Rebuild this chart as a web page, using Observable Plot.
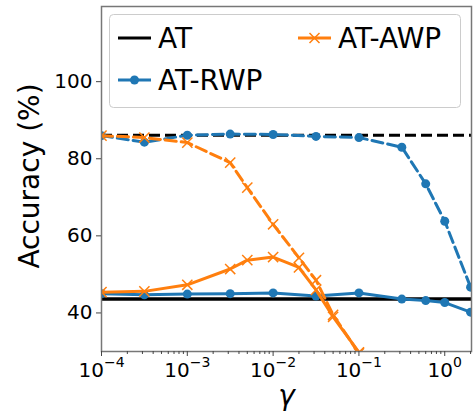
<!DOCTYPE html>
<html><head><meta charset="utf-8">
<script src="https://cdn.jsdelivr.net/npm/d3@7"></script>
<script src="https://cdn.jsdelivr.net/npm/@observablehq/plot@0.6"></script>
<style>body{margin:0;background:#fff} svg{display:block;font-family:"DejaVu Sans"}</style>
</head><body><div id="chart"></div>
<script>
// ---- data ----
const gammaRWP = [1e-4, 3.16e-4, 1e-3, 3.16e-3, 1e-2, 3.16e-2, 1e-1, 0.316, 0.6, 1.0, 2.0];
const rwpClean  = [86.0, 84.3, 86.1, 86.4, 86.3, 85.8, 85.5, 83.0, 73.5, 63.8, 46.7];
const rwpRobust = [45.0, 44.7, 44.9, 45.0, 45.2, 44.4, 45.2, 43.6, 43.2, 42.7, 40.2];
const gammaAWP = [1e-4, 3.16e-4, 1e-3, 3.16e-3, 5e-3, 1e-2, 2e-2, 3.16e-2, 5e-2, 1e-1];
const awpClean  = [86.0, 85.5, 84.2, 79.0, 72.5, 63.0, 54.3, 48.5, 39.5, 29.5];
const awpRobust = [45.4, 45.6, 47.3, 51.4, 53.7, 54.5, 51.8, 46.0, 39.0, 29.8];
const atClean = [86.1];
const atRobust = [43.6];
const seriesNames = ["AT", "AT-RWP", "AT-AWP"];
const seriesColors = ["#000000", "#1f77b4", "#ff7f0e"];
const xTickValues = [1e-4, 1e-3, 1e-2, 1e-1, 1];
const xTickLabels = ["10|−4", "10|−3", "10|−2", "10|−1", "10|0"];
const yTickValues = [40, 60, 80, 100];
const xLabel = "γ";
const yLabel = "Accuracy (%)";

const minorTicks = [];
for (const d of xTickValues) for (let k = 2; k <= 9; k++) { const v = d * k; if (v <= 2.05) minorTicks.push(v); }

const rwp = gammaRWP.map((g, i) => ({g, clean: rwpClean[i], robust: rwpRobust[i]}));
const awp = gammaAWP.map((g, i) => ({g, clean: awpClean[i], robust: awpRobust[i]}));

const blue = seriesColors[1], orange = seriesColors[2];
const dash = "11,5";

const chart = Plot.plot({
  width: 473, height: 412,
  marginLeft: 101, marginRight: 2, marginTop: 6, marginBottom: 61,
  style: {fontFamily: "DejaVu Sans", background: "#fff", color: "#000"},
  x: {type: "log", domain: [1e-4, 2.05]},
  y: {domain: [30, 119.5]},
  marks: [
    Plot.ruleY(atRobust, {stroke: "black", strokeWidth: 3.5}),
    Plot.ruleY(atClean, {stroke: "black", strokeWidth: 3, strokeDasharray: dash}),
    Plot.line(rwp, {x: "g", y: "clean", stroke: blue, strokeWidth: 3, strokeDasharray: dash, clip: true}),
    Plot.dot(rwp, {x: "g", y: "clean", fill: blue, r: 4.5, clip: true}),
    Plot.line(rwp, {x: "g", y: "robust", stroke: blue, strokeWidth: 3, clip: true}),
    Plot.dot(rwp, {x: "g", y: "robust", fill: blue, r: 4.5, clip: true}),
    Plot.line(awp, {x: "g", y: "clean", stroke: orange, strokeWidth: 3, strokeDasharray: dash, clip: true}),
    Plot.dot(awp, {x: "g", y: "clean", symbol: "times", stroke: orange, strokeWidth: 1.5, r: 4.7, clip: true}),
    Plot.line(awp, {x: "g", y: "robust", stroke: orange, strokeWidth: 3, clip: true}),
    Plot.dot(awp, {x: "g", y: "robust", symbol: "times", stroke: orange, strokeWidth: 1.5, r: 4.7, clip: true}),
    Plot.frame({stroke: "#777", strokeWidth: 1.5}),
    Plot.axisX({ticks: minorTicks, tickSize: 3, tickFormat: () => "", label: null, stroke: "#444"}),
    Plot.axisX({ticks: xTickValues, tickSize: 5, tickPadding: 6, fontSize: 20, label: null, stroke: "#444",
      tickFormat: d => xTickLabels[xTickValues.findIndex(v => Math.abs(v - d) < 1e-12)]}),
    Plot.axisY({ticks: yTickValues, tickSize: 5, tickPadding: 4, fontSize: 20, label: null, stroke: "#444"}),
    Plot.text([yLabel], {text: d => d, frameAnchor: "left", rotate: -90, dx: -71, dy: -3, fontSize: 28, lineAnchor: "middle", textAnchor: "middle"}),
    Plot.text([xLabel], {text: d => d, frameAnchor: "bottom", dy: 45, fontSize: 28, fontStyle: "italic", lineAnchor: "middle", textAnchor: "middle"})
  ]
});

document.getElementById("chart").appendChild(chart);
const svg = d3.select(chart);

// superscript tick labels
svg.selectAll('g[aria-label="x-axis tick label"] text').each(function () {
  const t = this.textContent;
  if (t.includes("|")) {
    const [b, e] = t.split("|");
    this.textContent = "";
    const s = d3.select(this);
    s.append("tspan").text(b);
    s.append("tspan").attr("dy", -9.4).attr("font-size", 14).text(e);
  }
});

// legend (inside the frame, upper area)
const lg = svg.append("g").attr("font-family", "DejaVu Sans").attr("text-anchor", "start");
lg.append("rect").attr("x", 109.5).attr("y", 14.5).attr("width", 351).attr("height", 93)
  .attr("rx", 4).attr("fill", "white").attr("fill-opacity", 0.8).attr("stroke", "#cccccc").attr("stroke-width", 1);
const items = [
  {name: seriesNames[0], color: seriesColors[0], x: 118, y: 38, marker: null},
  {name: seriesNames[1], color: seriesColors[1], x: 118, y: 80, marker: "dot"},
  {name: seriesNames[2], color: seriesColors[2], x: 298, y: 38, marker: "x"}
];
for (const it of items) {
  lg.append("line").attr("x1", it.x).attr("x2", it.x + 33).attr("y1", it.y).attr("y2", it.y)
    .attr("stroke", it.color).attr("stroke-width", 3);
  const cx = it.x + 16.5;
  if (it.marker === "dot") lg.append("circle").attr("cx", cx).attr("cy", it.y).attr("r", 4.5).attr("fill", it.color);
  if (it.marker === "x") lg.append("path").attr("d", `M${cx-5},${it.y-5}L${cx+5},${it.y+5}M${cx-5},${it.y+5}L${cx+5},${it.y-5}`)
    .attr("stroke", it.color).attr("stroke-width", 1.5);
  lg.append("text").attr("x", it.x + 40).attr("y", it.y + 10.3).attr("text-anchor", "start")
    .attr("font-size", 28).attr("fill", "#000").text(it.name);
}
</script>
</body></html>
